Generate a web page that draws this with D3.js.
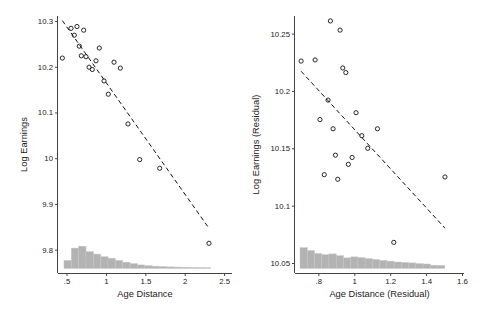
<!DOCTYPE html>
<html>
<head>
<meta charset="utf-8">
<script src="https://cdn.jsdelivr.net/npm/d3@7"></script>
<style>
  body { margin: 0; background: #fff; }
  svg { display: block; font-family: "Liberation Sans", Arial, sans-serif; }
</style>
</head>
<body>
<script>
const width = 480;
const height = 320;

// left panel: raw binned scatter
const ageX = [0.447, 0.557, 0.633, 0.718, 0.599, 0.662, 0.916, 0.688, 0.747, 0.874,
  1.103, 1.183, 0.786, 0.827, 0.976, 1.030, 1.280, 1.429, 1.683, 2.308];
const earnY = [10.219, 10.284, 10.288, 10.280, 10.269, 10.245, 10.241, 10.224, 10.222, 10.213,
  10.210, 10.197, 10.199, 10.194, 10.169, 10.140, 10.075, 9.997, 9.978, 9.814];
const ageFit = [10.410, -0.244]; // intercept, slope
const ageHist = [8, 20.3, 22.2, 16.7, 14.3, 11.7, 10.2, 8, 6.2, 4.8,
  3.5, 2.7, 2.2, 1.8, 1.5, 1.3, 1.2, 1, 0.8, 0.7];
const ageHistRange = [0.468, 2.33];
const ageXTicks = [0.5, 1, 1.5, 2, 2.5];
const ageXLabels = ['.5', '1', '1.5', '2', '2.5'];
const earnYTicks = [9.8, 9.9, 10, 10.1, 10.2, 10.3];
const earnYLabels = ['9.8', '9.9', '10', '10.1', '10.2', '10.3'];

// right panel: residualised
const resX = [0.704, 0.782, 0.867, 0.921, 0.936, 0.953, 0.854, 0.809, 1.010, 0.882,
  1.042, 1.129, 1.075, 0.895, 0.988, 0.967, 0.833, 0.908, 1.505, 1.220];
const resY = [10.226, 10.227, 10.261, 10.253, 10.220, 10.216, 10.192, 10.175, 10.181, 10.167,
  10.161, 10.167, 10.150, 10.144, 10.142, 10.136, 10.127, 10.123, 10.125, 10.068];
const resFit = [10.3373, -0.1707];
const resHist = [20.7, 17.9, 14.9, 13.7, 14.5, 12.7, 10.5, 11.5, 10.7, 9.7,
  8.9, 7.9, 7.2, 6.4, 5.9, 5.5, 4.8, 4.4, 3.2, 3.0];
const resHistRange = [0.698, 1.504];
const resXTicks = [0.8, 1, 1.2, 1.4, 1.6];
const resXLabels = ['.8', '1', '1.2', '1.4', '1.6'];
const resYTicks = [10.05, 10.1, 10.15, 10.2, 10.25];
const resYLabels = ['10.05', '10.1', '10.15', '10.2', '10.25'];

const svg = d3.select('body').append('svg')
  .attr('width', width)
  .attr('height', height);

function panel(cfg) {
  const x = d3.scaleLinear().domain(cfg.xDomain).range([cfg.left, cfg.right]);
  const y = d3.scaleLinear().domain(cfg.yDomain).range([cfg.bottom, cfg.top]);
  const g = svg.append('g');

  // histogram along the bottom, own height scale
  const histBase = cfg.bottom - 4.6;
  const h = d3.scaleLinear().domain([0, 25]).range([histBase, histBase - 25]);
  const bw = (cfg.histRange[1] - cfg.histRange[0]) / cfg.hist.length;
  g.selectAll('rect.bin')
    .data(cfg.hist)
    .enter()
    .append('rect')
    .attr('class', 'bin')
    .attr('x', (d, i) => x(cfg.histRange[0] + i * bw))
    .attr('width', x(cfg.histRange[0] + bw) - x(cfg.histRange[0]))
    .attr('y', d => h(d))
    .attr('height', d => histBase - h(d))
    .attr('fill', '#b3b3b3')
    .attr('stroke', '#c6c6c6')
    .attr('stroke-width', 0.5);

  // fitted line
  const fx = d3.extent(cfg.xs);
  g.append('line')
    .attr('x1', x(fx[0])).attr('y1', y(cfg.fit[0] + cfg.fit[1] * fx[0]))
    .attr('x2', x(fx[1])).attr('y2', y(cfg.fit[0] + cfg.fit[1] * fx[1]))
    .attr('stroke', '#111')
    .attr('stroke-width', 1)
    .attr('stroke-dasharray', '4.5,3');

  // scatter
  g.selectAll('circle.pt')
    .data(cfg.xs.map((v, i) => [v, cfg.ys[i]]))
    .enter()
    .append('circle')
    .attr('class', 'pt')
    .attr('cx', d => x(d[0]))
    .attr('cy', d => y(d[1]))
    .attr('r', 2.1)
    .attr('fill', 'none')
    .attr('stroke', '#111')
    .attr('stroke-width', 0.9);

  // axes
  const xAxis = d3.axisBottom(x)
    .tickValues(cfg.xTicks)
    .tickFormat((d, i) => cfg.xLabels[i])
    .tickSize(3)
    .tickPadding(2);
  const gx = g.append('g')
    .attr('transform', `translate(0,${cfg.bottom})`)
    .call(xAxis);

  const yAxis = d3.axisLeft(y)
    .tickValues(cfg.yTicks)
    .tickFormat((d, i) => cfg.yLabels[i])
    .tickSize(3)
    .tickPadding(2);
  const gy = g.append('g')
    .attr('transform', `translate(${cfg.left},0)`)
    .call(yAxis);

  [gx, gy].forEach(a => {
    a.select('.domain').attr('stroke', '#444').attr('d',
      a === gx ? `M${cfg.left},0.5H${cfg.right}` : `M-0.5,${cfg.top}V${cfg.bottom}`);
    a.selectAll('.tick line').attr('stroke', '#444');
    a.selectAll('.tick text')
      .attr('fill', '#222')
      .style('font-size', '7.8px')
      .style('font-family', '"Liberation Sans", Arial, sans-serif');
  });

  g.append('text')
    .attr('x', (cfg.left + cfg.right) / 2)
    .attr('y', cfg.bottom + 24)
    .attr('text-anchor', 'middle')
    .attr('fill', '#222')
    .style('font-size', '9.3px')
    .text(cfg.xTitle);

  g.append('text')
    .attr('transform', `translate(${cfg.yTitleX},${(cfg.top + cfg.bottom) / 2}) rotate(-90)`)
    .attr('text-anchor', 'middle')
    .attr('fill', '#222')
    .style('font-size', '9.3px')
    .text(cfg.yTitle);
}

panel({
  left: 58, right: 232, top: 16, bottom: 273,
  xDomain: [0.392, 2.6], yDomain: [9.749, 10.311],
  xs: ageX, ys: earnY, fit: ageFit,
  hist: ageHist, histRange: ageHistRange,
  xTicks: ageXTicks, xLabels: ageXLabels,
  yTicks: earnYTicks, yLabels: earnYLabels,
  xTitle: 'Age Distance', yTitle: 'Log Earnings', yTitleX: 27
});

panel({
  left: 295, right: 464, top: 16, bottom: 273,
  xDomain: [0.670, 1.611], yDomain: [10.0413, 10.2653],
  xs: resX, ys: resY, fit: resFit,
  hist: resHist, histRange: resHistRange,
  xTicks: resXTicks, xLabels: resXLabels,
  yTicks: resYTicks, yLabels: resYLabels,
  xTitle: 'Age Distance (Residual)', yTitle: 'Log Earnings (Residual)', yTitleX: 259
});
</script>
</body>
</html>
